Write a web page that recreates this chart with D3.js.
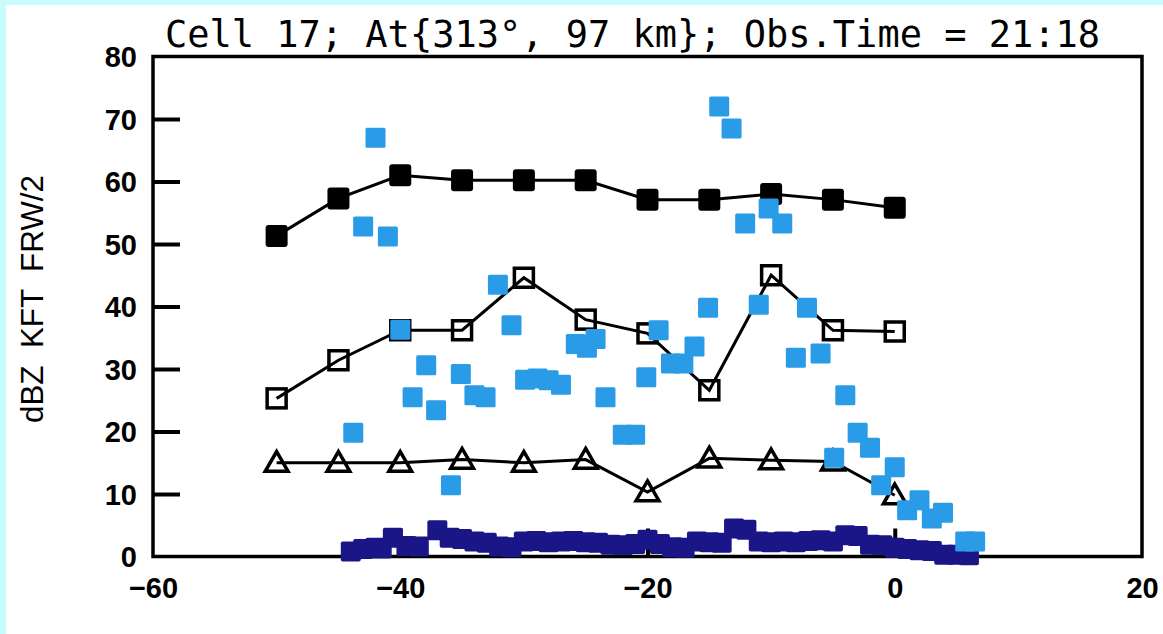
<!DOCTYPE html>
<html>
<head>
<meta charset="utf-8">
<script src="https://cdn.jsdelivr.net/npm/d3@7"></script>
<style>
  body { margin: 0; background: #c8fcfc; }
  svg { display: block; }
</style>
</head>
<body>
<div id="chart"></div>
<script>
// range (km) of the summary points
const ranges = [-50, -45, -40, -35, -30, -25, -20, -15, -10, -5, 0];
// max dBZ (filled squares)
const maxDbz = [51.3, 57.3, 61, 60.2, 60.2, 60.2, 57.1, 57.1, 58, 57.1, 55.8];
// echo top kft (open squares)
const topKft = [25.3, 31.4, 36.2, 36.2, 44.6, 37.9, 35.7, 26.6, 45.0, 36.2, 36.0];
// FRW/2 (triangles)
const frwHalf = [15, 15, 15, 15.5, 15, 15.5, 10.3, 15.7, 15.4, 15.2, 9.8];

// light blue scatter [x, y]
const cyanPts = [
  [-43.8, 19.8], [-43, 52.8], [-42, 67.0], [-41, 51.2], [-40, 36.3], [-39, 25.5],
  [-37.9, 30.6], [-37.1, 23.4], [-35.9, 11.4], [-35.1, 29.2], [-34.0, 25.8], [-33.1, 25.5],
  [-32.1, 43.5], [-31.0, 37.0], [-29.9, 28.3], [-28.9, 28.5], [-28.0, 28.2], [-27.0, 27.5],
  [-25.8, 34.0], [-24.9, 33.4], [-24.2, 34.8], [-23.4, 25.5], [-22.0, 19.5], [-21.0, 19.5],
  [-20.1, 28.7], [-19.1, 36.2], [-18.1, 30.9], [-17.1, 30.9], [-16.2, 33.6], [-15.1, 39.8],
  [-14.2, 72.0], [-13.2, 68.5], [-12.1, 53.3], [-11.0, 40.3], [-10.2, 55.7], [-9.1, 53.3],
  [-8.0, 31.8], [-7.1, 39.8], [-6.0, 32.5], [-4.9, 15.8], [-4.0, 25.8], [-3.0, 19.8],
  [-2.0, 17.4], [-1.1, 11.4], [0, 14.3], [1.0, 7.4], [2.0, 9.0], [3.0, 6.1],
  [3.9, 7.0], [5.7, 2.4], [6.5, 2.4]
];

// dark navy scatter near zero [x, y]
const navyPts = [
  [-44, 0.8], [-43, 1.2], [-42, 1.4], [-41.5, 1.3], [-40.6, 3.0], [-39.5, 1.7],
  [-38.5, 1.6], [-37, 4.2], [-36, 3.0], [-35, 2.8], [-34, 2.4], [-33, 2.2],
  [-32, 1.6], [-31, 1.5], [-30, 2.4], [-29, 2.5], [-28, 2.3], [-27, 2.4],
  [-26, 2.5], [-25, 2.3], [-24, 2.2], [-23, 1.9], [-22, 1.8], [-21, 2.0],
  [-20, 2.7], [-19, 2.0], [-18, 1.5], [-17, 1.4], [-16, 2.4], [-15, 2.3],
  [-14, 2.2], [-13, 4.5], [-12, 4.3], [-11, 2.4], [-10, 2.3], [-9, 2.4],
  [-8, 2.3], [-7, 2.5], [-6, 2.6], [-5, 2.4], [-4, 3.4], [-3, 3.3],
  [-2, 1.9], [-1, 1.8], [0, 1.4], [1, 1.2], [2, 1.0], [3, 0.9],
  [4, 0.3], [5, 0.3], [6, 0.2]
];

const xTicks = [-60, -40, -20, 0, 20];
const yTicks = [0, 10, 20, 30, 40, 50, 60, 70, 80];
const titleText = "Cell 17; At{313°, 97 km}; Obs.Time = 21:18";
const yLabelText = "dBZ  KFT  FRW/2";

const W = 1163, H = 634;

const svg = d3.select("#chart").append("svg")
  .attr("width", W)
  .attr("height", H);

// cyan frame + white page
svg.append("rect").attr("width", W).attr("height", H).attr("fill", "#c8fcfc");
svg.append("rect").attr("x", 6).attr("y", 5).attr("width", W - 6).attr("height", H - 5).attr("fill", "#ffffff");

const x = d3.scaleLinear().domain([-60, 20]).range([153, 1142]);
const y = d3.scaleLinear().domain([0, 80]).range([556.5, 56.5]);

// title
svg.append("text")
  .attr("x", 632.5)
  .attr("y", 47)
  .attr("text-anchor", "middle")
  .attr("textLength", 935)
  .attr("lengthAdjust", "spacingAndGlyphs")
  .style("font-family", "'DejaVu Sans Mono', monospace")
  .style("font-size", "37px")
  .attr("fill", "#000")
  .text(titleText);

// y label
svg.append("text")
  .attr("transform", "translate(43,299) rotate(-90)")
  .attr("text-anchor", "middle")
  .attr("textLength", 248)
  .attr("lengthAdjust", "spacingAndGlyphs")
  .style("white-space", "pre")
  .style("font-family", "'Liberation Sans', Arial, sans-serif")
  .style("font-size", "31px")
  .attr("fill", "#000")
  .text(yLabelText);

// axes (inward ticks)
const yAxis = d3.axisLeft(y).tickValues(yTicks).tickSize(-27).tickPadding(16)
  .tickFormat(d3.format("d"));
const yG = svg.append("g").attr("transform", `translate(${x(-60)},0)`).call(yAxis);

const xAxis = d3.axisBottom(x).tickValues(xTicks).tickSize(-28).tickPadding(21)
  .tickFormat(d3.format("d"));
const xG = svg.append("g").attr("transform", `translate(0,${y(0)})`).call(xAxis);

[yG, xG].forEach(function (g) {
  g.select(".domain").remove();
  g.selectAll("line").attr("stroke", "#000").attr("stroke-width", 4);
  g.selectAll("text")
    .attr("fill", "#000")
    .style("font-family", "'Liberation Sans', Arial, sans-serif")
    .style("font-weight", "bold")
    .style("font-size", "29px");
});
yG.selectAll("text").attr("dy", "0.36em");
// no ticks on the corners
yG.selectAll(".tick").filter(d => d === 0 || d === 80).select("line").remove();
xG.selectAll(".tick").filter(d => d === -60 || d === 20).select("line").remove();

// plot frame
svg.append("rect")
  .attr("x", x(-60))
  .attr("y", y(80))
  .attr("width", x(20) - x(-60))
  .attr("height", y(0) - y(80))
  .attr("fill", "none")
  .attr("stroke", "#000")
  .attr("stroke-width", 3.5);

const line = d3.line().x(d => x(d[0])).y(d => y(d[1]));

function drawSeries(vals, kind) {
  const pts = ranges.map((r, i) => [r, vals[i]]);
  svg.append("path")
    .datum(pts)
    .attr("d", line)
    .attr("fill", "none")
    .attr("stroke", "#000")
    .attr("stroke-width", 3);

  const g = svg.append("g");
  if (kind === "filled") {
    g.selectAll("rect").data(pts).enter().append("rect")
      .attr("x", d => x(d[0]) - 11)
      .attr("y", d => y(d[1]) - 11)
      .attr("width", 22).attr("height", 22)
      .attr("rx", 3)
      .attr("fill", "#000");
  } else if (kind === "open") {
    g.selectAll("rect").data(pts).enter().append("rect")
      .attr("x", d => x(d[0]) - 9.5)
      .attr("y", d => y(d[1]) - 9.5)
      .attr("width", 19).attr("height", 19)
      .attr("fill", "none")
      .attr("stroke", "#000")
      .attr("stroke-width", 3.5);
  } else {
    const tri = d3.symbol().type(d3.symbolTriangle).size(225);
    g.selectAll("path").data(pts).enter().append("path")
      .attr("d", tri)
      .attr("transform", d => `translate(${x(d[0])},${y(d[1]) + 2})`)
      .attr("fill", "none")
      .attr("stroke", "#000")
      .attr("stroke-width", 3.5);
  }
}

drawSeries(maxDbz, "filled");
drawSeries(topKft, "open");
drawSeries(frwHalf, "tri");

// navy squares
svg.append("g").selectAll("rect").data(navyPts).enter().append("rect")
  .attr("x", d => x(d[0]) - 10)
  .attr("y", d => y(d[1]) - 10)
  .attr("width", 20).attr("height", 20)
  .attr("rx", 2)
  .attr("fill", "#1b1687");

// light blue squares
svg.append("g").selectAll("rect").data(cyanPts).enter().append("rect")
  .attr("x", d => x(d[0]) - 10)
  .attr("y", d => y(d[1]) - 10)
  .attr("width", 20).attr("height", 20)
  .attr("rx", 1.5)
  .attr("fill", "#2a9be6");
</script>
</body>
</html>
